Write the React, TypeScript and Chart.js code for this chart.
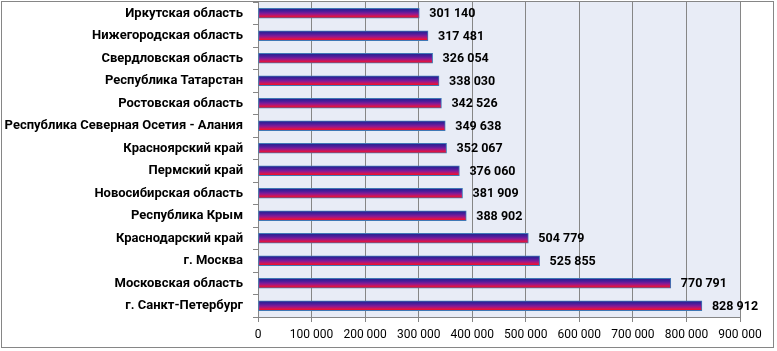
import React, { useEffect, useRef } from "react";
import { Chart, registerables } from "chart.js";

Chart.register(...registerables);

const categories = [
  "Иркутская область",
  "Нижегородская область",
  "Свердловская область",
  "Республика Татарстан",
  "Ростовская область",
  "Республика Северная Осетия - Алания",
  "Красноярский край",
  "Пермский край",
  "Новосибирская область",
  "Республика Крым",
  "Краснодарский край",
  "г. Москва",
  "Московская область",
  "г. Санкт-Петербург",
];

const values = [
  301140, 317481, 326054, 338030, 342526, 349638, 352067, 376060, 381909,
  388902, 504779, 525855, 770791, 828912,
];

const xTickMax = 900000;
const xTickStep = 100000;

const fmt = (v: number) =>
  Math.round(v)
    .toString()
    .replace(/\B(?=(\d{3})+(?!\d))/g, " ");

const FONT = "Roboto";

export default function App() {
  const ref = useRef<HTMLCanvasElement | null>(null);

  useEffect(() => {
    document.body.style.margin = "0";
    const canvas = ref.current!;
    const BAR = 10;

    const bgPlugin = {
      id: "bgPlugin",
      beforeDraw(chart: any) {
        const { ctx, chartArea } = chart;
        ctx.save();
        ctx.fillStyle = "#fff";
        ctx.fillRect(0, 0, chart.width, chart.height);
        ctx.fillStyle = "#E8ECF6";
        ctx.fillRect(
          chartArea.left,
          chartArea.top,
          chartArea.right - chartArea.left,
          chartArea.bottom - chartArea.top
        );
        ctx.restore();
      },
      afterDraw(chart: any) {
        const { ctx } = chart;
        ctx.save();
        ctx.strokeStyle = "#868686";
        ctx.lineWidth = 1;
        ctx.strokeRect(1.5, 1.5, 772, 346);
        ctx.restore();
      },
    };

    const labelPlugin = {
      id: "labelPlugin",
      afterDatasetsDraw(chart: any) {
        const { ctx } = chart;
        const meta = chart.getDatasetMeta(0);
        ctx.save();
        ctx.font = `bold 12.5px ${FONT}`;
        ctx.fillStyle = "#000";
        ctx.textAlign = "left";
        ctx.textBaseline = "middle";
        meta.data.forEach((el: any, i: number) => {
          ctx.fillText(fmt(values[i]), el.x + 10, el.y + 1);
        });
        ctx.restore();
      },
    };

    const chart = new Chart(canvas, {
      type: "bar",
      data: {
        labels: categories,
        datasets: [
          {
            data: values,
            barThickness: BAR,
            borderWidth: 1,
            borderColor: "#3F78B5",
            borderSkipped: false,
            backgroundColor: (c: any) => {
              const ch = c.chart;
              const ys = ch.scales && ch.scales.y;
              if (!ys || c.dataIndex === undefined) return "#6A1B9A";
              const y = ys.getPixelForValue(c.dataIndex);
              if (!isFinite(y)) return "#6A1B9A";
              const g = ch.ctx.createLinearGradient(0, y - BAR / 2, 0, y + BAR / 2);
              g.addColorStop(0, "#20208A");
              g.addColorStop(0.3, "#4A1E9C");
              g.addColorStop(0.55, "#8A1A95");
              g.addColorStop(0.8, "#D8154F");
              g.addColorStop(1, "#FF0A0A");
              return g;
            },
          },
        ],
      },
      options: {
        indexAxis: "y",
        responsive: false,
        animation: false,
        layout: { padding: { top: 2, right: 37, left: 0, bottom: 0 } },
        plugins: {
          legend: { display: false },
          tooltip: { enabled: false },
        },
        scales: {
          x: {
            min: 0,
            max: xTickMax,
            afterFit(scale: any) {
              scale.height = 34;
              scale.paddingLeft = 0;
              scale.paddingRight = 0;
            },
            ticks: {
              stepSize: xTickStep,
              color: "#000",
              font: { family: FONT, size: 12 },
              padding: 6,
              callback: (v: any) => fmt(Number(v)),
            },
            grid: {
              color: "#868686",
              tickLength: 5,
              drawTicks: true,
            },
            border: { color: "#868686" },
          },
          y: {
            afterFit(scale: any) {
              scale.width = 258;
              scale.paddingTop = 0;
              scale.paddingBottom = 0;
            },
            ticks: {
              color: "#000",
              font: { family: FONT, size: 13, weight: "bold" },
              padding: 10,
              autoSkip: false,
            },
            grid: {
              offset: true,
              drawOnChartArea: false,
              drawTicks: true,
              tickLength: 5,
              color: "#868686",
            },
            border: { color: "#868686" },
          },
        },
      },
      plugins: [bgPlugin, labelPlugin],
    } as any);

    return () => chart.destroy();
  }, []);

  return (
    <div style={{ width: 777, height: 351 }}>
      <canvas ref={ref} width={777} height={351} />
    </div>
  );
}
